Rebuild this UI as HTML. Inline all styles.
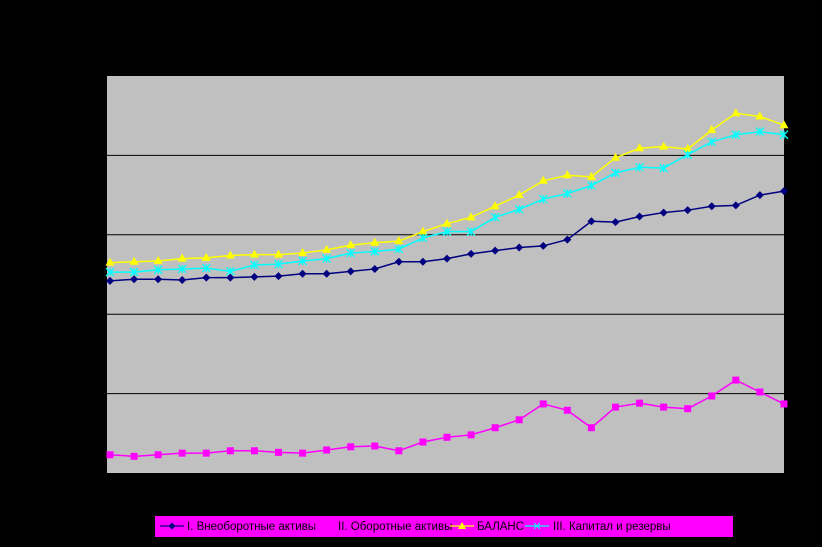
<!DOCTYPE html>
<html><head><meta charset="utf-8"><style>
html,body{margin:0;padding:0;background:#000;width:822px;height:547px;overflow:hidden}
svg{display:block}
text{font-family:"Liberation Sans",sans-serif;font-size:11.5px;fill:#000}
</style></head><body>
<svg id="chart" width="822" height="547">
<rect x="107" y="76" width="677" height="397" fill="#c0c0c0"/>
<g id="grid"></g><g id="series"></g>
<g>
<rect x="155" y="516" width="578" height="21" fill="#ff00ff"/>
<g><line x1="160" y1="526" x2="184" y2="526" stroke="#000080" stroke-width="1.3"/><path d="M172 522.5L175.5 526 172 529.5 168.5 526Z" fill="#000080"/><text x="187" y="530">I. Внеоборотные активы</text></g>
<g><line x1="310" y1="526" x2="334" y2="526" stroke="#ff00ff"/><text x="338" y="530">II. Оборотные активы</text></g>
<g><line x1="450" y1="526" x2="474" y2="526" stroke="#ffff00" stroke-width="1.3"/><path d="M462 522L466 529 458 529Z" fill="#ffff00"/><text x="477" y="530">БАЛАНС</text></g>
<g><line x1="525" y1="526" x2="549" y2="526" stroke="#00ffff" stroke-width="1.3"/><path d="M534 523L540 529M540 523L534 529" stroke="#00ffff"/><text x="553" y="530">III. Капитал и резервы</text></g>
</g>
</svg>
<script>
const nonCurrent=[242,244,244,243,246,246,247,248,251,251,254,257,266,266,270,276,280,284,286,294,317,316,323,328,331,336,337,350,355];
const current=[23,21,23,25,25,28,28,26,25,29,33,34,28,39,45,48,57,67,87,79,57,83,88,83,81,97,117,102,87];
const balance=[265,266,267,270,271,274,275,275,277,281,287,290,292,304,314,322,336,350,368,375,373,397,409,411,408,432,453,449,438];
const capital=[253,253,256,257,258,254,262,263,267,270,277,279,282,296,304,304,322,332,345,352,362,378,385,384,401,417,426,430,426];
const gridValues=[100,200,300,400];
const NS="http://www.w3.org/2000/svg";
const X=i=>110+i*24.07, Y=v=>473-v*0.794;
const grid=document.getElementById('grid'), sg=document.getElementById('series');
function mk(tag,attrs,parent){const e=document.createElementNS(NS,tag);for(const k in attrs)e.setAttribute(k,attrs[k]);parent.appendChild(e);return e;}
gridValues.forEach(v=>{const l=mk('line',{x1:107,x2:784,y1:Y(v),y2:Y(v),stroke:'#000'},grid);

});
for(let i=0;i<14;i++){const t=mk('line',{x1:130+i*48.14,x2:130+i*48.14,y1:473,y2:477,stroke:'#000'},grid);

}
function draw(data,color,marker,name){
const g=mk('g',{},sg);


mk('polyline',{points:data.map((v,i)=>X(i)+','+Y(v)).join(' '),fill:'none',stroke:color,'stroke-width':1.5},g);
data.forEach((v,i)=>{const x=X(i),y=Y(v);let m;
if(marker==='d')m=mk('path',{d:`M${x} ${y-4}L${x+4} ${y} ${x} ${y+4} ${x-4} ${y}Z`,fill:color},g);
else if(marker==='s')m=mk('rect',{x:x-3.5,y:y-3.5,width:7,height:7,fill:color},g);
else if(marker==='t')m=mk('path',{d:`M${x} ${y-5}L${x+4.5} ${y+3} ${x-4.5} ${y+3}Z`,fill:color},g);
else m=mk('path',{d:`M${x-4} ${y-4}L${x+4} ${y+4}M${x+4} ${y-4}L${x-4} ${y+4}M${x} ${y-4}L${x} ${y+4}`,stroke:color,'stroke-width':1.3},g);

});}
draw(balance,'#ffff00','t','series-balance');
draw(capital,'#00ffff','x','series-capital');
draw(nonCurrent,'#000080','d','series-noncurrent');
draw(current,'#ff00ff','s','series-current');
</script>
</body></html>
